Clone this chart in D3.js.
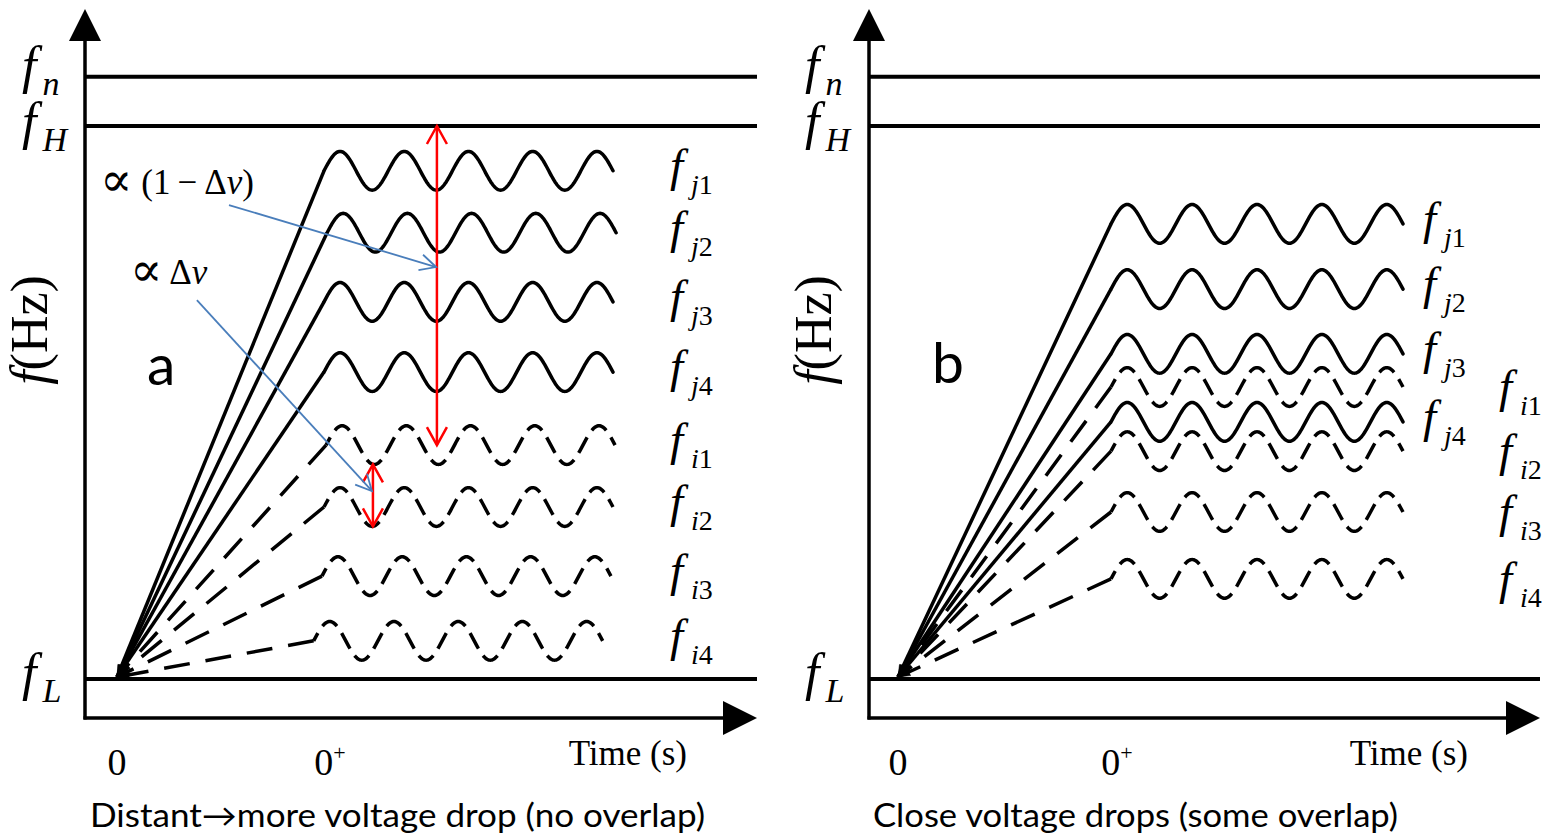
<!DOCTYPE html>
<html>
<head>
<meta charset="utf-8">
<script src="https://cdn.jsdelivr.net/npm/d3@7"></script>
<style>
  body { margin: 0; background: #fff; }
  text { fill: #000; }
</style>
</head>
<body>
<div id="chart"></div>
<script>
const W = 1546, H = 837;

// frequency levels are in % of the band, f_L = 0 and f_H = 100
const boundNames = ['n', 'H', 'L'];
const boundLevels = [108.9, 100, 0];

const seriesNames = ['j1', 'j2', 'j3', 'j4', 'i1', 'i2', 'i3', 'i4'];
const seriesSolid = [true, true, true, true, false, false, false, false];

// wave centre levels
const levelsA = [91.9, 80.7, 68.2, 55.5, 42.3, 31.1, 18.6, 6.9];
const levelsB = [82.3, 70.5, 58.8, 46.5, 52.8, 41.2, 30.2, 18.1];
// time where the ramp stops and the oscillation begins (0+ = 1)
const startsA = [1, 1.015, 1, 1, 1.01, 1, 0.99, 0.95];
const startsB = [1, 1, 1, 1, 1, 1, 1, 1];

const amplitude = 3.5;   // % of band
const cycles = 4.5;
const sineSpan = 1.4;    // time units of oscillation
const period = sineSpan / cycles;

const timeTicks = [0, 1];
const timeTickLabels = ['0', '0'];
const timeTickSup = ['', '+'];

const captions = ['Distant\u2192more voltage drop (no overlap)', 'Close voltage drops (some overlap)'];
const panelLetters = ['a', 'b'];

const svg = d3.select('#chart').append('svg')
    .attr('width', W)
    .attr('height', H)
    .style('font-family', '"Liberation Serif", "Times New Roman", serif');

const defs = svg.append('defs');

function addMarker(id, d, size, refX, refY, color, filled, width) {
  defs.append('marker')
      .attr('id', id)
      .attr('viewBox', (-size / 2) + ' ' + (-size / 2) + ' ' + (size * 2) + ' ' + (size * 2))
      .attr('markerWidth', size * 2)
      .attr('markerHeight', size * 2)
      .attr('markerUnits', 'userSpaceOnUse')
      .attr('refX', refX)
      .attr('refY', refY)
      .attr('orient', 'auto-start-reverse')
      .append('path')
      .attr('d', d)
      .attr('fill', filled ? color : 'none')
      .attr('stroke', color)
      .attr('stroke-width', width)
      .attr('stroke-linejoin', 'miter');
}
addMarker('head-black', 'M0,0 L12,4 L0,8 Z', 14, 12, 4, '#000', true, 0.5);
addMarker('head-red', 'M0,0 L18,10 L0,20', 22, 18, 10, '#ff0000', false, 2.5);
addMarker('head-blue', 'M0,0 L16,8 L0,16', 20, 16, 8, '#4a7ebb', false, 1.8);

const y = d3.scaleLinear().domain([0, 100]).range([679, 126]);

const panels = [
  {axisX: 85, endX: 757, xRange: [117, 324, 613], levels: levelsA, starts: startsA,
   labelX: [670, 670], labelDy: [10, 10], axisLabelX: 22, hzX: 47, letterX: 147, letterY: 385,
   timeX: 687, captionX: 90, captionW: 615},
  {axisX: 869, endX: 1540, xRange: [898, 1111, 1403], levels: levelsB, starts: startsB,
   labelX: [1423, 1499], labelDy: [10, 15], axisLabelX: 805, hzX: 831, letterX: 932, letterY: 383,
   timeX: 1468, captionX: 873, captionW: 525}
];

const line = d3.line().x(d => d[0]).y(d => d[1]);

panels.forEach((p, pi) => {
  const x = d3.scaleLinear().domain([0, 1, 1 + sineSpan]).range(p.xRange);
  const g = svg.append('g');

  // band limit lines
  boundLevels.forEach((lv) => {
    g.append('line')
        .attr('x1', p.axisX).attr('x2', p.endX)
        .attr('y1', y(lv)).attr('y2', y(lv))
        .attr('stroke', '#000').attr('stroke-width', 4);
  });

  // axes
  const axisY = 718;
  g.append('line')
      .attr('x1', p.axisX).attr('x2', p.axisX)
      .attr('y1', axisY + 1.5).attr('y2', 36)
      .attr('stroke', '#000').attr('stroke-width', 3.5);
  g.append('path')
      .attr('d', 'M' + p.axisX + ',9 L' + (p.axisX - 16) + ',41 L' + (p.axisX + 16) + ',41 Z')
      .attr('fill', '#000');
  g.append('line')
      .attr('x1', p.axisX - 1.5).attr('x2', p.endX - 30)
      .attr('y1', axisY).attr('y2', axisY)
      .attr('stroke', '#000').attr('stroke-width', 3.5);
  g.append('path')
      .attr('d', 'M' + p.endX + ',' + axisY + ' L' + (p.endX - 34) + ',' + (axisY - 17) +
          ' L' + (p.endX - 34) + ',' + (axisY + 17) + ' Z')
      .attr('fill', '#000');

  // series: ramp from origin, then oscillation
  seriesNames.forEach((name, i) => {
    const lv = p.levels[i];
    const t0 = p.starts[i];
    const solid = seriesSolid[i];

    g.append('path')
        .attr('d', line([[x(t0), y(lv)], [x(0), y(0) - 2]]))
        .attr('fill', 'none')
        .attr('stroke', '#000')
        .attr('stroke-width', 3.5)
        .attr('stroke-dasharray', solid ? null : '26,16')
        .attr('marker-end', 'url(#head-black)');

    const pts = d3.range(0, 361).map(k => {
      const t = t0 + sineSpan * k / 360;
      return [x(t), y(lv + amplitude * Math.sin(2 * Math.PI * (t - t0) / period))];
    });
    const wave = g.append('path')
        .attr('d', line(pts))
        .attr('fill', 'none')
        .attr('stroke', '#000')
        .attr('stroke-width', 3.5)
        .attr('stroke-linecap', solid ? 'round' : 'butt');
    if (!solid) {
      const L = wave.node().getTotalLength();
      const q = L / (cycles * 4);
      wave.attr('stroke-dasharray', (0.68 * q) + ',' + (0.32 * q))
          .attr('stroke-dashoffset', 0.34 * q);
    }

    // label
    const grp = solid ? 0 : 1;
    const lab = g.append('text')
        .attr('x', p.labelX[grp])
        .attr('y', y(lv) + p.labelDy[grp]);
    lab.append('tspan').attr('font-style', 'italic').attr('font-size', 47).text('f');
    lab.append('tspan').attr('font-style', 'italic').attr('font-size', 28)
        .attr('dx', 8).attr('dy', 13).text(name[0]);
    lab.append('tspan').attr('font-size', 28).text(name.slice(1));
  });

  // band labels f_n, f_H, f_L
  const dyBound = [6, 13, 11];
  boundNames.forEach((nm, k) => {
    const t = g.append('text')
        .attr('x', p.axisLabelX)
        .attr('y', y(boundLevels[k]) + dyBound[k]);
    t.append('tspan').attr('font-style', 'italic').attr('font-size', 52).text('f');
    t.append('tspan').attr('font-style', 'italic').attr('font-size', 34)
        .attr('dx', 6).attr('dy', 12).text(nm);
  });

  // y axis title
  const hz = g.append('text')
      .attr('transform', 'translate(' + p.hzX + ',330) rotate(-90)')
      .attr('text-anchor', 'middle')
      .attr('font-size', 52);
  hz.append('tspan').attr('font-style', 'italic').text('f');
  hz.append('tspan').text('(Hz)');

  // time ticks
  timeTicks.forEach((t, k) => {
    const tx = g.append('text')
        .attr('x', x(t) + (k ? 6 : 0))
        .attr('y', 775)
        .attr('text-anchor', 'middle')
        .attr('font-size', 38);
    tx.append('tspan').text(timeTickLabels[k]);
    if (timeTickSup[k]) {
      tx.append('tspan').attr('font-size', 22).attr('dy', -15).text(timeTickSup[k]);
    }
  });
  g.append('text')
      .attr('x', p.timeX).attr('y', 765)
      .attr('text-anchor', 'end')
      .attr('font-size', 35)
      .text('Time (s)');

  // panel letter
  g.append('text')
      .attr('x', p.letterX).attr('y', p.letterY)
      .attr('font-family', 'Lato, "Open Sans", sans-serif')
      .attr('font-size', 57)
      .text(panelLetters[pi]);

  // caption
  g.append('text')
      .attr('x', p.captionX).attr('y', 827)
      .attr('font-family', 'Lato, "Open Sans", sans-serif')
      .attr('font-size', 32)
      .attr('textLength', p.captionW)
      .attr('lengthAdjust', 'spacingAndGlyphs')
      .text(captions[pi]);

  // annotations only on panel a
  if (pi === 0) {
    const iI1 = seriesNames.indexOf('i1'), iI2 = seriesNames.indexOf('i2');
    const red = [
      [[1.547, 100], [1.547, p.levels[iI1]]],
      [[1.237, p.levels[iI1] - amplitude], [1.237, p.levels[iI2] - amplitude]]
    ];
    red.forEach(seg => {
      g.append('path')
          .attr('d', line(seg.map(d => [x(d[0]), y(d[1])])))
          .attr('stroke', '#ff0000').attr('stroke-width', 2.5).attr('fill', 'none')
          .attr('marker-start', 'url(#head-red)')
          .attr('marker-end', 'url(#head-red)');
    });
    const blue = [
      [[0.541, 85.7], [1.543, 74.5]],
      [[0.386, 68.5], [1.232, 34.0]]
    ];
    blue.forEach(seg => {
      g.append('path')
          .attr('d', line(seg.map(d => [x(d[0]), y(d[1])])))
          .attr('stroke', '#4a7ebb').attr('stroke-width', 1.8).attr('fill', 'none')
          .attr('marker-end', 'url(#head-blue)');
    });

    const prop = '"DejaVu Serif", serif';
    const t1 = g.append('text').attr('x', 100).attr('y', 194).attr('font-size', 35);
    t1.append('tspan').attr('font-family', prop).attr('font-size', 48).attr('dy', 2).text('\u221D');
    t1.append('tspan').attr('dy', -2).text(' (1\u2009\u2212\u2009\u0394');
    t1.append('tspan').attr('font-style', 'italic').text('v');
    t1.append('tspan').text(')');
    const t2 = g.append('text').attr('x', 130).attr('y', 284).attr('font-size', 35);
    t2.append('tspan').attr('font-family', prop).attr('font-size', 48).attr('dy', 2).text('\u221D');
    t2.append('tspan').attr('dy', -2).text(' \u0394');
    t2.append('tspan').attr('font-style', 'italic').text('v');
  }
});
</script>
</body>
</html>
